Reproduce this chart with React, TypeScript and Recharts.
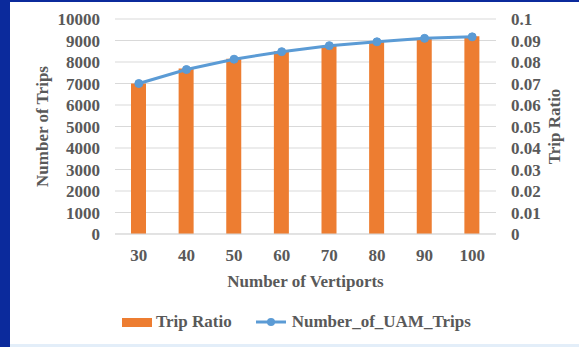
import { Bar, CartesianGrid, ComposedChart, Line, XAxis, YAxis } from 'recharts';

const vertiports = ['30', '40', '50', '60', '70', '80', '90', '100'];
const tripRatio = [0.07, 0.077, 0.0815, 0.085, 0.0875, 0.0895, 0.091, 0.092];
const uamTrips = [7000, 7650, 8130, 8480, 8760, 8940, 9100, 9170];
const tripTicks = [0, 1000, 2000, 3000, 4000, 5000, 6000, 7000, 8000, 9000, 10000];
const ratioTicks = [0, 0.01, 0.02, 0.03, 0.04, 0.05, 0.06, 0.07, 0.08, 0.09, 0.1];

const ORANGE = '#ED7D31';
const BLUE = '#5B9BD5';
const TEXT = '#595959';
const FONT = '"Liberation Serif", "Times New Roman", serif';

const data = vertiports.map((v, i) => ({
  label: v,
  ratio: tripRatio[i],
  trips: uamTrips[i],
}));

const tickStyle = { fill: TEXT, fontSize: 17, fontWeight: 700, fontFamily: FONT };
const titleStyle = { fill: TEXT, fontSize: 17, fontWeight: 700, fontFamily: FONT, textAnchor: 'middle' as const };

export default function App() {
  return (
    <div
      style={{
        position: 'absolute',
        left: 0,
        top: 0,
        width: 579,
        height: 347,
        background: '#fff',
        overflow: 'hidden',
        fontFamily: FONT,
      }}
    >
      <div style={{ position: 'absolute', left: 0, top: 0, width: 10, height: 347, background: '#0b2a9c' }} />
      <div style={{ position: 'absolute', left: 0, top: 0, width: 579, height: 2, background: '#0b2a9c' }} />
      <div style={{ position: 'absolute', left: 10, top: 344, width: 569, height: 3, background: '#e3eef9' }} />

      <ComposedChart
        width={579}
        height={347}
        data={data}
        margin={{ top: 19, right: 0, bottom: 0, left: 0 }}
        style={{ position: 'absolute', left: 0, top: 0 }}
      >
        <CartesianGrid yAxisId="trips" vertical={false} stroke="#d9d9d9" />
        <XAxis
          dataKey="label"
          height={113}
          tickLine={false}
          tickSize={0}
          tickMargin={15}
          axisLine={{ stroke: '#d9d9d9' }}
          tick={tickStyle}
          label={{ value: 'Number of Vertiports', position: 'insideTop', offset: 41, style: titleStyle }}
        />
        <YAxis
          yAxisId="trips"
          width={115}
          domain={[0, 10000]}
          ticks={tripTicks}
          interval={0}
          axisLine={false}
          tickLine={false}
          tickSize={0}
          tickMargin={15}
          tick={tickStyle}
          label={{ value: 'Number of Trips', angle: -90, position: 'insideLeft', offset: 42, style: titleStyle }}
        />
        <YAxis
          yAxisId="ratio"
          orientation="right"
          width={83}
          domain={[0, 0.1]}
          ticks={ratioTicks}
          interval={0}
          axisLine={false}
          tickLine={false}
          tickSize={0}
          tickMargin={15}
          tick={{ ...tickStyle, textAnchor: 'start' }}
          tickFormatter={(v) => String(Number(Number(v).toFixed(2)))}
          label={{ value: 'Trip Ratio', angle: -90, position: 'insideRight', offset: 25, style: titleStyle }}
        />
        <Bar yAxisId="ratio" dataKey="ratio" name="Trip Ratio" fill={ORANGE} barSize={15} isAnimationActive={false} />
        <Line
          yAxisId="trips"
          type="linear"
          dataKey="trips"
          name="Number_of_UAM_Trips"
          stroke={BLUE}
          strokeWidth={3}
          dot={{ r: 4, fill: BLUE, stroke: BLUE, strokeWidth: 1 }}
          isAnimationActive={false}
        />
      </ComposedChart>

      <div
        style={{
          position: 'absolute',
          left: 122,
          top: 312,
          display: 'flex',
          alignItems: 'center',
          fontSize: 17,
          fontWeight: 700,
          color: TEXT,
          whiteSpace: 'nowrap',
        }}
      >
        <span style={{ display: 'inline-block', width: 30, height: 9, background: ORANGE, marginRight: 4 }} />
        <span>Trip Ratio</span>
        <svg width={30} height={10} style={{ marginLeft: 24, marginRight: 6 }}>
          <line x1={0} y1={5} x2={30} y2={5} stroke={BLUE} strokeWidth={3} />
          <circle cx={15} cy={5} r={4} fill={BLUE} />
        </svg>
        <span>Number_of_UAM_Trips</span>
      </div>
    </div>
  );
}
